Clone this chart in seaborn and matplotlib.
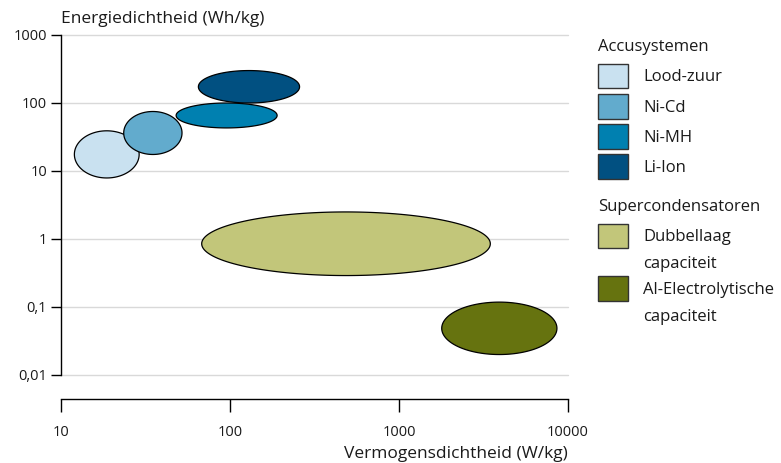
import matplotlib

matplotlib.use("Agg")
import matplotlib.pyplot as plt
import numpy as np
import seaborn as sns
from matplotlib.patches import Patch

# ranges (W/kg, Wh/kg)
names = ["Lood-zuur", "Ni-Cd", "Li-Ion", "Ni-MH", "Dubbellaag", "Al-Electrolytisch"]
power_min = [12, 23.5, 65, 48, 68, 1790]
power_max = [29, 52, 258, 190, 3470, 8600]
energy_min = [7.9, 17.5, 100, 43, 0.29, 0.02]
energy_max = [39, 75, 300, 100, 2.5, 0.118]
colors = ["#c9e1f0", "#62abcd", "#015081", "#0080b0", "#c2c67a", "#66730f"]

battery_labels = ["Lood-zuur", "Ni-Cd", "Ni-MH", "Li-Ion"]
battery_colors = ["#c9e1f0", "#62abcd", "#0080b0", "#015081"]
super_labels = ["Dubbellaag", "capaciteit", "Al-Electrolytische", "capaciteit"]
super_colors = ["#c2c67a", None, "#66730f", None]

y_ticks = [0.01, 0.1, 1, 10, 100, 1000]
y_ticklabels = ["0,01", "0,1", "1", "10", "100", "1000"]
x_ticks = [10, 100, 1000, 10000]
x_ticklabels = ["10", "100", "1000", "10000"]

sns.set_style("white")
plt.rcParams["font.family"] = ["Open Sans", "DejaVu Sans"]
text_color = "#1a1a1a"

fig = plt.figure(figsize=(7.81, 4.63), dpi=100)
ax = fig.add_axes([61 / 781, 1 - 375 / 463, (568 - 61) / 781, (375 - 35) / 463])
ax.set_xscale("log")
ax.set_yscale("log")
ax.set_xlim(10, 10000)
ax.set_ylim(0.01, 1000)

# ellipses are drawn in log space, then mapped back
t = np.linspace(0, 2 * np.pi, 300)
for i in range(len(names)):
    lx0, lx1 = np.log10(power_min[i]), np.log10(power_max[i])
    ly0, ly1 = np.log10(energy_min[i]), np.log10(energy_max[i])
    cx, cy = (lx0 + lx1) / 2, (ly0 + ly1) / 2
    rx, ry = (lx1 - lx0) / 2, (ly1 - ly0) / 2
    ax.fill(
        10 ** (cx + rx * np.cos(t)),
        10 ** (cy + ry * np.sin(t)),
        facecolor=colors[i],
        edgecolor="black",
        linewidth=0.9,
        zorder=3 + i,
    )

ax.set_yticks(y_ticks)
ax.set_yticklabels(y_ticklabels)
ax.set_xticks(x_ticks)
ax.set_xticklabels(x_ticklabels)
ax.minorticks_off()
ax.yaxis.grid(True, color="#d9d9d9", linewidth=1)
ax.xaxis.grid(False)
ax.set_axisbelow(True)
for gl in ax.get_ygridlines():
    gl.set_clip_on(False)

sns.despine(ax=ax, top=True, right=True)
ax.spines["bottom"].set_position(("outward", 17))
for s in ["left", "bottom"]:
    ax.spines[s].set_color("black")
    ax.spines[s].set_linewidth(1)
ax.tick_params(axis="y", length=7, width=1, color="black", labelsize=10.5, labelcolor=text_color, pad=3, left=True)
ax.tick_params(axis="x", length=9, width=1, color="black", labelsize=10.5, labelcolor=text_color, pad=10, bottom=True)

ax.set_xlabel("Vermogensdichtheid (W/kg)", fontsize=12.5, color=text_color, ha="right")
ax.xaxis.set_label_coords(1.0, -0.21)
ax.set_ylabel("Energiedichtheid (Wh/kg)", fontsize=12.5, color=text_color, rotation=0, ha="left", va="center")
ax.yaxis.set_label_coords(0.0, 1.048)

leg_kw = dict(
    loc="upper left",
    frameon=False,
    fontsize=12,
    handlelength=1.8,
    handleheight=1.93,
    handletextpad=0.9,
    borderpad=0,
    borderaxespad=0,
    labelcolor=text_color,
)

fig.text(598 / 781, 1 - 47 / 463, "Accusystemen", fontsize=12, color=text_color, va="center")
h1 = [Patch(facecolor=c, edgecolor="#333333", linewidth=1) for c in battery_colors]
fig.legend(h1, battery_labels, bbox_to_anchor=(598 / 781, 1 - 63.5 / 463), labelspacing=0.32, **leg_kw)

fig.text(598 / 781, 1 - 207 / 463, "Supercondensatoren", fontsize=12, color=text_color, va="center")
h2 = [
    Patch(facecolor=c, edgecolor="#333333", linewidth=1) if c else Patch(facecolor="none", edgecolor="none")
    for c in super_colors
]
fig.legend(h2, super_labels, bbox_to_anchor=(598 / 781, 1 - 223.5 / 463), labelspacing=0.09, **leg_kw)

fig.savefig("out.png", dpi=100)
